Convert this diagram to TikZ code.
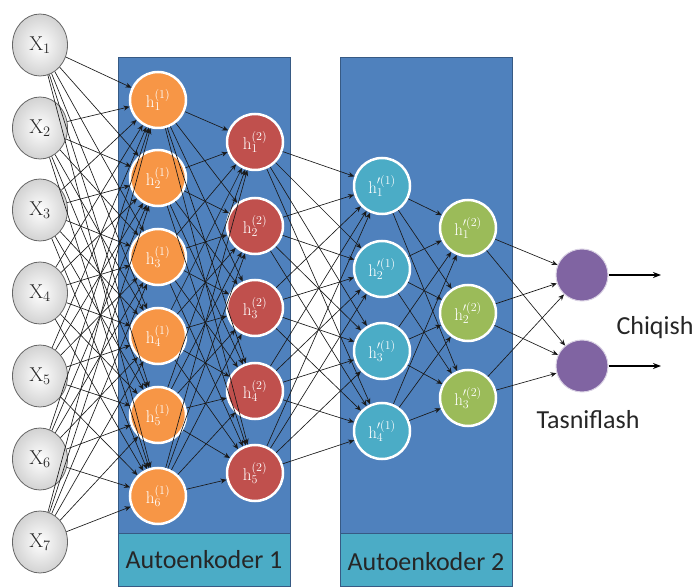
\documentclass[tikz,border=0pt]{standalone}
\usepackage{fontspec}
\newfontfamily\labelfont{Carlito}
\usetikzlibrary{arrows.meta,shapes.geometric}

\definecolor{boxblue}{HTML}{4F81BD}
\definecolor{bandblue}{HTML}{4BACC6}
\definecolor{orangeh}{HTML}{F79646}
\definecolor{redh}{HTML}{C0504D}
\definecolor{cyanh}{HTML}{4BACC6}
\definecolor{greenh}{HTML}{9BBB59}
\definecolor{purpleh}{HTML}{8064A2}

\begin{document}
\begin{tikzpicture}
  [x=1pt,y=-1pt,
   inp/.style={ellipse,draw=gray!80!black,line width=0.8pt,inner color=white,outer color=gray!35,
     minimum width=55pt,minimum height=62pt,inner sep=0pt,font=\fontsize{20}{20}\selectfont,text=black!85},
   hid/.style={circle,draw=white,line width=2.5pt,minimum size=56pt,inner sep=0pt,
     text=white,font=\fontsize{17}{17}\selectfont},
   outn/.style={circle,fill=purpleh,draw=purpleh!30,line width=1pt,minimum size=52pt},
   conn/.style={-{Stealth[length=6pt,width=5pt]},black!90,line width=0.65pt},
   box/.style={fill=boxblue,draw=boxblue!70!black,line width=0.8pt},
   band/.style={fill=bandblue,draw=boxblue!70!black,line width=0.8pt},
   lbl/.style={font=\labelfont\fontsize{26}{26}\selectfont,text=black!85}]
  \useasboundingbox (0,0) rectangle (697,588);

  % autoencoder boxes
  \draw[box] (118,57) rectangle (290,533);
  \draw[band] (118,533) rectangle (290,586);
  \draw[box] (340,57) rectangle (512,533);
  \draw[band] (340,533) rectangle (512,586);
  \node[lbl] (ae1) at (204,560) {Autoenkoder 1};
  \node[lbl] (ae2) at (426,562) {Autoenkoder 2};

  % inputs
  \foreach \i/\y in {1/45,2/128,3/210,4/293,5/376,6/459,7/542}
    \node[inp] (x\i) at (40,\y) {$\mathrm{X}_{\i}$};

  % first autoencoder
  \foreach \i/\y in {1/100,2/178,3/257,4/336,5/415,6/496}
    \node[hid,fill=orangeh] (a\i) at (158,\y) {$\mathrm{h}_{\i}^{(1)}$};
  \foreach \i/\y in {1/142,2/226,3/308,4/391,5/473}
    \node[hid,fill=redh] (b\i) at (255,\y) {$\mathrm{h}_{\i}^{(2)}$};

  % second autoencoder
  \foreach \i/\y in {1/186,2/269,3/351,4/431}
    \node[hid,fill=cyanh] (c\i) at (382,\y) {$\mathrm{h}_{\i}^{\prime(1)}$};
  \foreach \i/\y in {1/228,2/313,3/398}
    \node[hid,fill=greenh] (d\i) at (468,\y) {$\mathrm{h}_{\i}^{\prime(2)}$};

  % classifier
  \node[outn] (o1) at (582,275) {};
  \node[outn] (o2) at (582,366) {};
  \coordinate (e1) at (661,275);
  \coordinate (e2) at (661,366);
  \node[lbl] (chq) at (655,328) {Chiqish};
  \node[lbl] (tsn) at (588,420) {Tasniflash};

  \foreach \i in {1,...,7}
    \foreach \j in {1,...,6}
      \draw[conn] (x\i) -- (a\j);
  \foreach \i in {1,...,6}
    \foreach \j in {1,...,5}
      \draw[conn] (a\i) -- (b\j);
  \foreach \i in {1,...,5}
    \foreach \j in {1,...,4}
      \draw[conn] (b\i) -- (c\j);
  \foreach \i in {1,...,4}
    \foreach \j in {1,...,3}
      \draw[conn] (c\i) -- (d\j);
  \foreach \i in {1,...,3}
    \foreach \j in {1,2}
      \draw[conn] (d\i) -- (o\j);
  \foreach \j in {1,2}
    \draw[-{Stealth[length=8pt,width=6pt]},line width=1.6pt] (o\j) -- (e\j);

\end{tikzpicture}
\end{document}
